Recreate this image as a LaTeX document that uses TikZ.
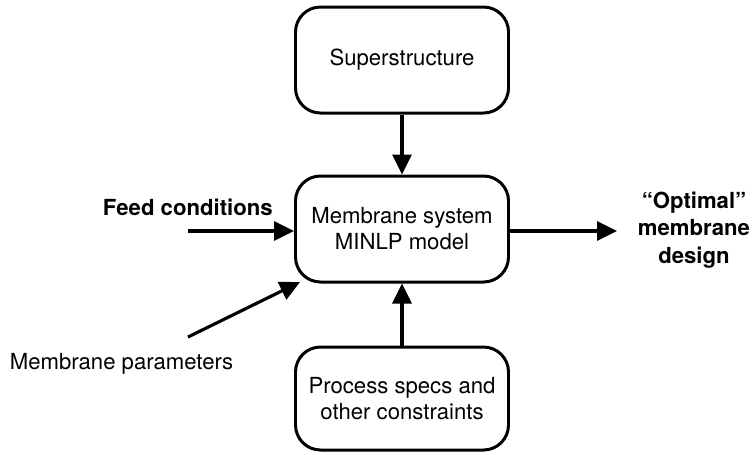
\documentclass[tikz,border=0pt]{standalone}
\usepackage{fontspec}
\setmainfont{TeX Gyre Heros}
\usetikzlibrary{arrows.meta}

\begin{document}
\begin{tikzpicture}[x=1cm,y=1cm,
  box/.style={draw,line width=1.7pt,rounded corners=0.5cm,minimum width=4.26cm,minimum height=2.12cm,align=center,font=\fontsize{12.6}{14.8}\selectfont},
  lbl/.style={font=\fontsize{12.6}{14.8}\selectfont,inner sep=0pt},
  flow/.style={line width=1.8pt,-{Triangle[length=0.4cm,width=0.38cm]}}]
  \useasboundingbox (0,0) rectangle (15.12,-9.08);
  % boxes
  \node[box] (super) at (8.04,-1.2) {Superstructure};
  \node[box] (model) at (8.04,-4.58) {Membrane system\\MINLP model};
  \node[box,minimum height=2.06cm] (specs) at (8.04,-7.97) {Process specs and\\other constraints};
  % inputs and output
  \node[lbl,anchor=base east,font=\fontsize{12.6}{14.8}\selectfont\bfseries] (feed) at (5.46,-4.3) {Feed conditions};
  \node[lbl,anchor=base] (param) at (2.43,-7.38) {Membrane parameters};
  \node[lbl,align=center,font=\fontsize{12.6}{15.6}\selectfont\bfseries] (design) at (13.88,-4.6) {“Optimal”\\membrane\\design};
  \coordinate (feedin) at (3.76,-4.62);
  \coordinate (paramin) at (3.76,-6.74);
  \coordinate (paramend) at (6.0,-5.64);
  \coordinate (designend) at (12.34,-4.62);
  % arrows
  \draw[flow] (super) -- (model);
  \draw[flow] (specs) -- (model);
  \draw[flow] (feedin) -- (feedin -| model.west);
  \draw[flow] (paramin) -- (paramend);
  \draw[flow] (designend -| model.east) -- (designend);
\end{tikzpicture}
\end{document}
